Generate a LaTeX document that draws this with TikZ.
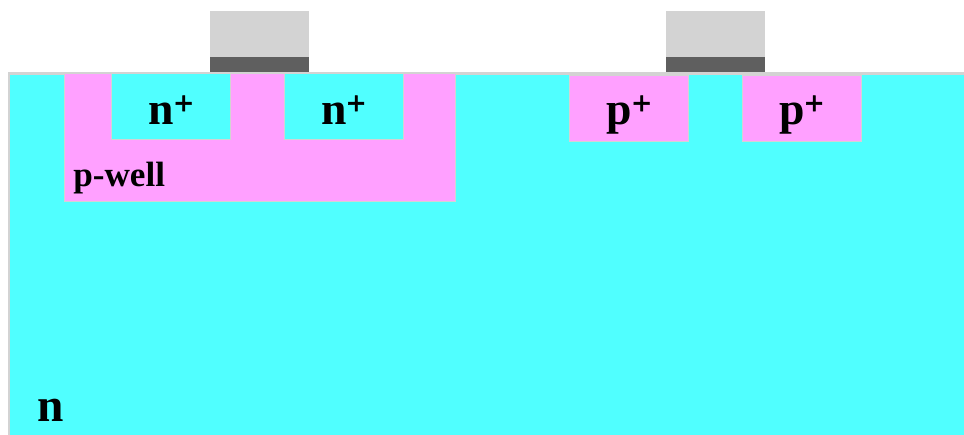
\documentclass[tikz,border=0pt]{standalone}
\usepackage{fontspec}
\setmainfont{Liberation Serif}
\newfontface\plusface[FakeBold=1.5]{Liberation Serif Bold}
\usetikzlibrary{positioning}
\definecolor{siliconn}{RGB}{80, 255, 255}
\definecolor{siliconp}{RGB}{255, 160, 255}
\definecolor{edgegray}{RGB}{211, 211, 211}
\definecolor{oxidegray}{RGB}{95, 95, 95}
\newcommand{\plussup}{\raisebox{6pt}{\fontsize{19}{19}\plusface +}}

\begin{document}
\begin{tikzpicture}[
    region/.style={draw=edgegray, line width=0.5pt, inner sep=0pt, outer sep=0pt, font=\fontsize{26}{26}\bfseries\selectfont},
    nplus/.style={region, fill=siliconn, minimum width=2.38cm, minimum height=1.32cm, text height=0.76cm, text depth=0pt},
    pplus/.style={region, fill=siliconp, minimum width=2.38cm, minimum height=1.32cm, text height=0.68cm, text depth=0pt},
    gate/.style={fill=edgegray, minimum width=1.98cm, minimum height=0.92cm, inner sep=0pt, outer sep=0pt},
    oxide/.style={fill=oxidegray, minimum width=1.98cm, minimum height=0.3cm, inner sep=0pt, outer sep=0pt}
]
    \useasboundingbox (0,0) rectangle (19.28,8.7);

    \node[fill=siliconn, minimum width=19.1cm, minimum height=7.23cm, inner sep=0pt, outer sep=0pt] (substrate) at (9.73,3.615) {};
    \draw[edgegray, line width=1.7pt] (substrate.south west) -- (substrate.north west) -- (substrate.north east);

    \node[region, fill=siliconp, minimum width=7.82cm, minimum height=2.56cm] (pwell) at (5.2,5.96) {};

    \node[nplus] (nleft) at (3.42,6.58) {n\plussup};
    \node[nplus] (nright) at (6.87,6.58) {n\plussup};
    \node[pplus] (pleft) at (12.58,6.54) {p\plussup};
    \node[pplus] (pright) at (16.03,6.54) {p\plussup};

    \node[oxide] (oxleft) at (5.19,7.41) {};
    \node[oxide] (oxright) at (14.31,7.41) {};
    \node[gate, above=0pt of oxleft] (gateleft) {};
    \node[gate, above=0pt of oxright] (gateright) {};

    \node[anchor=base west, inner sep=0pt, font=\fontsize{20}{20}\bfseries\selectfont] (welllabel) at (1.46,4.96) {p-well};
    \node[anchor=base west, inner sep=0pt, font=\fontsize{27}{27}\bfseries\selectfont] (subslabel) at (0.74,0.26) {n};
\end{tikzpicture}
\end{document}
